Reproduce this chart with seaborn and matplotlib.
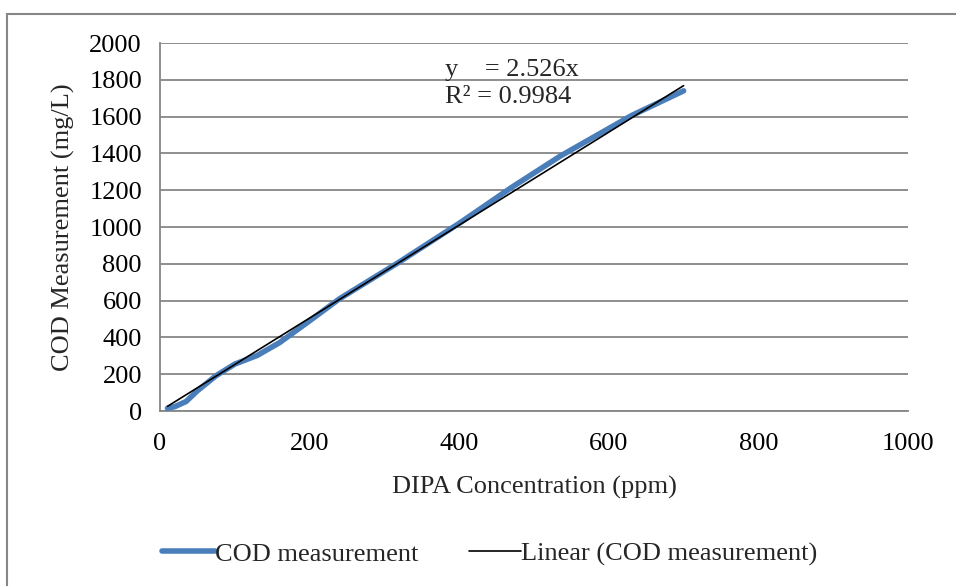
import matplotlib
matplotlib.use("Agg")
import matplotlib.pyplot as plt
import seaborn as sns
import pandas as pd
from matplotlib.patches import Rectangle
from matplotlib.lines import Line2D

# valeurs
conc = [10, 20, 35, 50, 75, 100, 130, 160, 200, 240, 320, 400, 470, 535, 630, 700]
cod = [15, 24, 52, 110, 192, 255, 302, 372, 490, 610, 810, 1020, 1215, 1385, 1605, 1740]
slope = 2.526
r2 = 0.9984
x_ticks = [0, 200, 400, 600, 800, 1000]
y_ticks = list(range(0, 2001, 200))

df = pd.DataFrame({"conc": conc, "cod": cod})
trend = pd.DataFrame({"conc": [min(conc), max(conc)]})
trend["cod"] = slope * trend["conc"]

sns.set_style("white")
plt.rcParams['font.family'] = ['Liberation Serif', 'DejaVu Serif']
plt.rcParams['font.size'] = 19

blue = "#4a7ebb"
grey = "#868686"

fig = plt.figure(figsize=(9.56, 5.86), dpi=100)
ax = fig.add_axes([160/956, 1-411/586, (908-160)/956, (411-43)/586])

sns.lineplot(data=df, x="conc", y="cod", ax=ax, color=blue, lw=4, sort=False,
             estimator=None, solid_capstyle="round", solid_joinstyle="round", zorder=3)
sns.lineplot(data=trend, x="conc", y="cod", ax=ax, color="black", lw=1.2, zorder=4)

ax.set_xlim(0, 1000)
ax.set_ylim(0, 2000)
ax.set_xticks(x_ticks)
ax.set_yticks(y_ticks)
ax.yaxis.grid(True, color=grey, lw=1.3)
ax.set_axisbelow(True)
for s in ["top", "right"]:
    ax.spines[s].set_visible(False)
for s in ["left", "bottom"]:
    ax.spines[s].set_color(grey)
    ax.spines[s].set_linewidth(1.3)
ax.tick_params(axis="both", direction="out", length=5, width=1.3, color=grey,
               labelsize=19, labelcolor="black")
ax.tick_params(axis="y", pad=8)
ax.tick_params(axis="x", pad=11)

ax.set_xlabel("DIPA Concentration (ppm)", fontsize=19, labelpad=15)
ax.set_ylabel("COD Measurement (mg/L)", fontsize=19, labelpad=10)

ax.text(381, 1853, "y    = %.3fx" % slope, fontsize=19, va="center", ha="left")
ax.text(381, 1707, "R² = %.4f" % r2, fontsize=19, va="center", ha="left")

handles = [Line2D([], [], color=blue, lw=4, solid_capstyle="round"),
           Line2D([], [], color="black", lw=1.2)]
fig.legend(handles, ["COD measurement", "Linear (COD measurement)"],
           loc="center", bbox_to_anchor=(490/956, 1-554/586), ncol=2,
           frameon=False, fontsize=19, handlelength=2.0, handletextpad=0.0,
           columnspacing=1.9)

fig.patches.append(Rectangle((7/956, -0.1), 1.2, 1.1-14/586, transform=fig.transFigure,
                             fill=False, edgecolor=grey, lw=1.5))

fig.savefig("out.png", dpi=100)
